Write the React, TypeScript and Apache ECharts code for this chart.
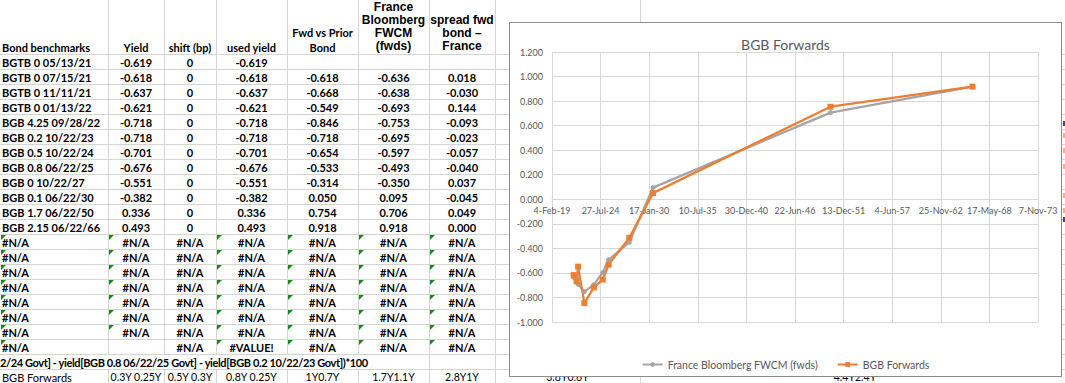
import React, { useEffect, useRef } from "react";
import * as echarts from "echarts";

// ---------- data ----------
const bondNames = [
  "BGTB 0 05/13/21", "BGTB 0 07/15/21", "BGTB 0 11/11/21", "BGTB 0 01/13/22",
  "BGB 4.25 09/28/22", "BGB 0.2 10/22/23", "BGB 0.5 10/22/24", "BGB 0.8 06/22/25",
  "BGB 0 10/22/27", "BGB 0.1 06/22/30", "BGB 1.7 06/22/50", "BGB 2.15 06/22/66",
];
const yields = [-0.619, -0.618, -0.637, -0.621, -0.718, -0.718, -0.701, -0.676, -0.551, -0.382, 0.336, 0.493];
const shiftBp = [0, 0, 0, 0, 0, 0, 0, 0, 0, 0, 0, 0];
const usedYields = [-0.619, -0.618, -0.637, -0.621, -0.718, -0.718, -0.701, -0.676, -0.551, -0.382, 0.336, 0.493];
const fwdVsPrior = [null, -0.618, -0.668, -0.549, -0.846, -0.718, -0.654, -0.533, -0.314, 0.05, 0.754, 0.918];
const franceFwcm = [null, -0.636, -0.638, -0.693, -0.753, -0.695, -0.597, -0.493, -0.35, 0.095, 0.706, 0.918];
const spreadFwd = [null, 0.018, -0.03, 0.144, -0.093, -0.023, -0.057, -0.04, 0.037, -0.045, 0.049, 0.0];

const headerA = "Bond benchmarks";
const headerB = "Yield";
const headerC = "shift (bp)";
const headerD = "used yield";
const headerE = ["Fwd vs Prior", "Bond"];
const headerF = ["France", "Bloomberg", "FWCM", "(fwds)"];
const headerG = ["spread fwd", "bond \u2013", "France"];

const errorRows = [
  ["#N/A", "#N/A", "#N/A", "#N/A", "#N/A", "#N/A", "#N/A"],
  ["#N/A", "#N/A", "#N/A", "#N/A", "#N/A", "#N/A", "#N/A"],
  ["#N/A", "#N/A", "#N/A", "#N/A", "#N/A", "#N/A", "#N/A"],
  ["#N/A", "#N/A", "#N/A", "#N/A", "#N/A", "#N/A", "#N/A"],
  ["#N/A", "#N/A", "#N/A", "#N/A", "#N/A", "#N/A", "#N/A"],
  ["#N/A", "#N/A", "#N/A", "#N/A", "#N/A", "#N/A", "#N/A"],
  ["#N/A", "#N/A", "#N/A", "#N/A", "#N/A", "#N/A", "#N/A"],
  ["#N/A", "", "#N/A", "#VALUE!", "#N/A", "#N/A", "#N/A"],
];
const formulaText = "2/24 Govt] - yield[BGB 0.8 06/22/25 Govt] - yield[BGB 0.2 10/22/23 Govt])*100";
const forwardsLabel = "BGB Forwards";
const forwardsTenors = ["0.3Y 0.25Y", "0.5Y 0.3Y", "0.8Y 0.25Y", "1Y0.7Y", "1.7Y1.1Y", "2.8Y1Y", "3.8Y0.6Y", "4.4Y2.4Y"];

const chartTitle = "BGB Forwards";
const seriesNames = ["France Bloomberg FWCM (fwds)", "BGB Forwards"];
const xAxisMin = 43500; // 4-Feb-19 (Excel serial)
const xAxisMax = 63500; // 7-Nov-73
const xAxisStep = 2000;
const yAxisMin = -1;
const yAxisMax = 1.2;
const yAxisStep = 0.2;

// ---------- helpers ----------
const EXCEL_EPOCH = Date.UTC(1899, 11, 30);
const MONTHS = ["Jan", "Feb", "Mar", "Apr", "May", "Jun", "Jul", "Aug", "Sep", "Oct", "Nov", "Dec"];
function maturitySerial(name: string): number {
  const [m, d, yy] = name.split(" ").pop()!.split("/").map(Number);
  return (Date.UTC(2000 + yy, m - 1, d) - EXCEL_EPOCH) / 86400000;
}
function serialLabel(v: number): string {
  const dt = new Date(EXCEL_EPOCH + Math.round(v) * 86400000);
  return `${dt.getUTCDate()}-${MONTHS[dt.getUTCMonth()]}-${String(dt.getUTCFullYear() % 100).padStart(2, "0")}`;
}
const fmt3 = (v: number | null) => (v === null ? "" : (Math.abs(v) < 1e-9 ? 0 : v).toFixed(3));

const maturities = bondNames.map(maturitySerial);
const pairs = (vals: (number | null)[]) =>
  vals.map((v, i) => (v === null ? null : [maturities[i], v])).filter((p) => p !== null) as number[][];

// ---------- layout ----------
const COLS = [0, 108, 164, 216, 287, 358, 429, 495, 640, 1070];
const HEAD_BOTTOM = 54;
const ROW_H = 15;
const GRID = "#d4d4d4";
const FONT = "Lato, 'Open Sans', sans-serif";
const rowTop = (r: number) => HEAD_BOTTOM + r * ROW_H;
const FORMULA_ROW = bondNames.length + errorRows.length;
const LAST_ROW = FORMULA_ROW + 1;

const PLOT_H = 270;
// the horizontal axis crosses the vertical one at 0
const xAxisOffset = -((0 - yAxisMin) / (yAxisMax - yAxisMin)) * PLOT_H;

function Chart() {
  const ref = useRef<HTMLDivElement>(null);
  useEffect(() => {
    const chart = echarts.init(ref.current!, null, { renderer: "svg" });
    const txt = { fontFamily: FONT, color: "#595959" };
    chart.setOption({
      animation: false,
      backgroundColor: "#ffffff",
      title: {
        text: chartTitle,
        left: "center",
        top: 9,
        textStyle: { ...txt, fontSize: 14, fontWeight: "normal" },
      },
      grid: { left: 42, top: 29, width: 486, height: PLOT_H, containLabel: false },
      legend: {
        top: 331,
        left: "center",
        itemWidth: 20,
        itemHeight: 6,
        itemGap: 19,
        textStyle: { ...txt, fontSize: 10.5 },
        data: seriesNames,
      },
      xAxis: {
        type: "value",
        min: xAxisMin,
        max: xAxisMax,
        interval: xAxisStep,
        position: "bottom",
        offset: xAxisOffset,
        axisLine: { show: true, onZero: false, lineStyle: { color: "#d9d9d9", width: 1 } },
        axisTick: { show: false },
        axisLabel: { ...txt, fontSize: 9, margin: 7, formatter: (v: number) => serialLabel(v) },
        splitLine: { show: true, lineStyle: { color: "#d9d9d9", width: 1 } },
      },
      yAxis: {
        type: "value",
        min: yAxisMin,
        max: yAxisMax,
        interval: yAxisStep,
        axisLine: { show: false, onZero: false },
        axisTick: { show: false },
        axisLabel: { ...txt, fontSize: 9, margin: 9, formatter: (v: number) => fmt3(v) },
        splitLine: { show: true, lineStyle: { color: "#d9d9d9", width: 1 } },
      },
      series: [
        {
          name: seriesNames[0],
          type: "line",
          data: pairs(franceFwcm),
          color: "#a5a5a5",
          lineStyle: { width: 2.25, color: "#a5a5a5" },
          symbol: "circle",
          symbolSize: 5,
          showAllSymbol: true,
          itemStyle: { color: "#a5a5a5" },
        },
        {
          name: seriesNames[1],
          type: "line",
          data: pairs(fwdVsPrior),
          color: "#ed7d31",
          lineStyle: { width: 2.25, color: "#ed7d31" },
          symbol: "rect",
          symbolSize: 6,
          showAllSymbol: true,
          itemStyle: { color: "#ed7d31" },
        },
      ],
    });
    return () => chart.dispose();
  }, []);
  return <div ref={ref} style={{ width: 551, height: 353 }} />;
}

function Cell(props: {
  col: number;
  top: number;
  text: string;
  align?: "left" | "center" | "right";
  bold?: boolean;
  tri?: boolean;
  size?: number;
}) {
  const { col, top, text, align = "center", bold = true, tri = false, size = 11 } = props;
  const left = COLS[col];
  const width = COLS[col + 1] - COLS[col];
  return (
    <>
      {tri && (
        <div
          style={{
            position: "absolute",
            left: left + 1,
            top: top + 1,
            width: 0,
            height: 0,
            borderTop: "5px solid #168a16",
            borderRight: "5px solid transparent",
          }}
        />
      )}
      <div
        style={{
          position: "absolute",
          left: align === "left" ? left + 2 : left,
          top: top + 0.5,
          width: align === "left" ? undefined : width,
          height: ROW_H,
          lineHeight: ROW_H + "px",
          textAlign: align,
          fontWeight: bold ? 700 : 400,
          whiteSpace: "nowrap",
          fontSize: size,
        }}
      >
        {text}
      </div>
    </>
  );
}

export default function App() {
  const lines: React.ReactNode[] = [];
  for (let r = 0; r <= LAST_ROW; r++) {
    lines.push(
      <div key={"h" + r} style={{ position: "absolute", left: 0, top: rowTop(r), width: 1065, height: 1, background: GRID }} />
    );
  }
  COLS.slice(1, COLS.length - 1).forEach((x, i) => {
    const spilled = x < 429;
    if (spilled) {
      lines.push(
        <div key={"va" + i} style={{ position: "absolute", left: x, top: 0, width: 1, height: rowTop(FORMULA_ROW), background: GRID }} />
      );
      lines.push(
        <div key={"vb" + i} style={{ position: "absolute", left: x, top: rowTop(LAST_ROW), width: 1, height: 383 - rowTop(LAST_ROW), background: GRID }} />
      );
    } else {
      lines.push(<div key={"v" + i} style={{ position: "absolute", left: x, top: 0, width: 1, height: 383, background: GRID }} />);
    }
  });

  const cells: React.ReactNode[] = [];
  bondNames.forEach((name, i) => {
    const t = rowTop(i);
    cells.push(<Cell key={"a" + i} col={0} top={t} text={name} align="left" />);
    cells.push(<Cell key={"b" + i} col={1} top={t} text={fmt3(yields[i])} />);
    cells.push(<Cell key={"c" + i} col={2} top={t} text={String(shiftBp[i])} />);
    cells.push(<Cell key={"d" + i} col={3} top={t} text={fmt3(usedYields[i])} />);
    cells.push(<Cell key={"e" + i} col={4} top={t} text={fmt3(fwdVsPrior[i])} />);
    cells.push(<Cell key={"f" + i} col={5} top={t} text={fmt3(franceFwcm[i])} />);
    cells.push(<Cell key={"g" + i} col={6} top={t} text={fmt3(spreadFwd[i])} />);
  });
  errorRows.forEach((row, j) => {
    const t = rowTop(bondNames.length + j);
    row.forEach((txt, c) => {
      cells.push(
        <Cell key={`n${j}-${c}`} col={c} top={t} text={txt} align={c === 0 ? "left" : "center"} tri={c !== 2 && txt !== ""} />
      );
    });
  });

  const headLine = (col: number, texts: string[], lh: number, bottom: number, font: React.CSSProperties, key: string) => (
    <div
      key={key}
      style={{
        position: "absolute",
        left: COLS[col],
        width: COLS[col + 1] - COLS[col],
        top: bottom - lh * texts.length,
        lineHeight: lh + "px",
        textAlign: "center",
        whiteSpace: "nowrap",
        ...font,
      }}
    >
      {texts.map((s, k) => (
        <div key={k}>{s}</div>
      ))}
    </div>
  );
  const calibriBold: React.CSSProperties = { fontFamily: FONT, fontWeight: 700, fontSize: 11 };
  const arialBold: React.CSSProperties = { fontFamily: "'Liberation Sans', Arial, sans-serif", fontWeight: 700, fontSize: 12 };

  return (
    <div
      style={{
        position: "fixed",
        left: 0,
        top: 0,
        width: 1065,
        height: 383,
        overflow: "hidden",
        background: "#ffffff",
        fontFamily: FONT,
        color: "#000",
      }}
    >
      {lines}
      <div style={{ position: "absolute", left: 2, top: 40, lineHeight: "15px", whiteSpace: "nowrap", ...calibriBold }}>{headerA}</div>
      {headLine(1, [headerB], 15, 55, calibriBold, "hb")}
      {headLine(2, [headerC], 15, 55, calibriBold, "hc")}
      {headLine(3, [headerD], 15, 55, calibriBold, "hd")}
      {headLine(4, headerE, 14.4, 55, calibriBold, "he")}
      {headLine(5, headerF, 12.9, 52.5, arialBold, "hf")}
      {headLine(6, headerG, 12.9, 52.5, arialBold, "hg")}
      {cells}
      <div
        style={{
          position: "absolute",
          left: 0,
          top: rowTop(FORMULA_ROW) + 0.5,
          lineHeight: "15px",
          whiteSpace: "nowrap",
          letterSpacing: "-0.38px",
          ...calibriBold,
        }}
      >
        {formulaText}
      </div>
      <Cell col={0} top={rowTop(LAST_ROW)} text={forwardsLabel} align="left" bold={false} />
      {forwardsTenors.map((s, k) => (
        <Cell key={"fw" + k} col={k + 1} top={rowTop(LAST_ROW)} text={s} bold={false} size={10.5} />
      ))}
      {[
        [121, "#2f4f9a"],
        [133, "#f4b183"],
        [148, "#f4b183"],
        [164, "#f4b183"],
        [193, "#f4b183"],
        [208, "#f4b183"],
        [217, "#2f4f9a"],
      ].map(([y, c], k) => (
        <div key={"m" + k} style={{ position: "absolute", left: 1063, top: y as number, width: 2, height: 5, background: c as string }} />
      ))}
      <div
        style={{
          position: "absolute",
          left: 509,
          top: 22,
          width: 553,
          height: 355,
          boxSizing: "border-box",
          border: "1px solid #8c8c8c",
          background: "#fff",
          zIndex: 2,
        }}
      >
        <Chart />
      </div>
    </div>
  );
}
